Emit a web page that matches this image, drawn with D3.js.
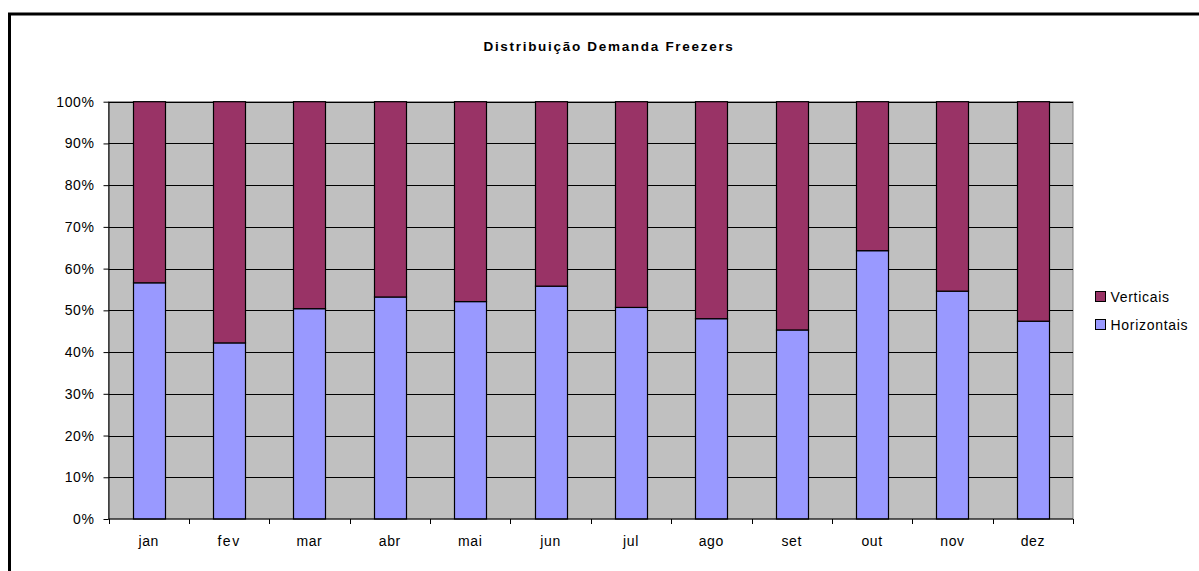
<!DOCTYPE html>
<html>
<head>
<meta charset="utf-8">
<script src="https://cdn.jsdelivr.net/npm/d3@7"></script>
<style>
  body { margin: 0; background: #fff; }
  svg text { font-family: "Liberation Sans", Arial, sans-serif; fill: #000; }
</style>
</head>
<body>
<div id="chart"></div>
<script>
const months = ["jan", "fev", "mar", "abr", "mai", "jun", "jul", "ago", "set", "out", "nov", "dez"];
const horizontais = [56.6, 42.2, 50.4, 53.2, 52.1, 55.8, 50.7, 48.0, 45.3, 64.3, 54.6, 47.4];
const verticais = horizontais.map((h) => 100 - h);
const yTicks = [0, 10, 20, 30, 40, 50, 60, 70, 80, 90, 100];

const W = 1199, H = 571;
const plot = { left: 108.5, right: 1073, top: 101.7, bottom: 519 };

const svg = d3.select("#chart").append("svg")
  .attr("width", W).attr("height", H);

// outer frame (only top/left visible in the window)
svg.append("rect")
  .attr("x", 9.5).attr("y", 14)
  .attr("width", W + 20).attr("height", H + 20)
  .attr("fill", "none").attr("stroke", "#000").attr("stroke-width", 3);

svg.append("text")
  .attr("x", 609).attr("y", 51)
  .attr("text-anchor", "middle")
  .attr("font-size", "13.5px").attr("font-weight", "bold")
  .attr("letter-spacing", "1.7px")
  .text("Distribuição Demanda Freezers");

const x = d3.scaleBand().domain(months).range([plot.left, plot.right]);
const y = d3.scaleLinear().domain([0, 100]).range([plot.bottom, plot.top]);

// plot background
svg.append("rect")
  .attr("x", plot.left).attr("y", plot.top)
  .attr("width", plot.right - plot.left).attr("height", plot.bottom - plot.top)
  .attr("fill", "#c0c0c0").attr("stroke", "#808080").attr("stroke-width", 1);

// gridlines
svg.append("g").selectAll("line")
  .data(yTicks.filter((d) => d > 0))
  .join("line")
  .attr("x1", plot.left).attr("x2", plot.right)
  .attr("y1", (d) => Math.round(y(d)) + 0.5).attr("y2", (d) => Math.round(y(d)) + 0.5)
  .attr("stroke", "#000").attr("stroke-width", 1);

const stack = d3.stack().keys(["h", "v"])(months.map((m, i) => ({ m, h: horizontais[i], v: verticais[i] })));
const colors = { h: "#9999ff", v: "#993366" };
const barW = 32;

svg.append("g").selectAll("g")
  .data(stack)
  .join("g")
  .attr("fill", (s) => colors[s.key])
  .selectAll("rect")
  .data((s) => s)
  .join("rect")
  .attr("x", (d) => Math.round(x(d.data.m) + x.bandwidth() / 2 - barW / 2) + 0.5)
  .attr("y", (d) => y(d[1]))
  .attr("width", barW)
  .attr("height", (d) => y(d[0]) - y(d[1]))
  .attr("stroke", "#000").attr("stroke-width", 1.2);

// y axis
svg.append("g")
  .attr("transform", `translate(${plot.left},0)`)
  .call(d3.axisLeft(y).tickValues(yTicks).tickFormat((d) => d + "%").tickSize(5).tickSizeOuter(0))
  .call((g) => g.selectAll("line, path").attr("stroke", "#000"))
  .call((g) => g.selectAll("text")
    .attr("font-size", "14px").attr("letter-spacing", "0.6px")
    .attr("x", -14).attr("font-family", "Liberation Sans, Arial, sans-serif"));

// x axis
const xBoundaries = d3.range(0, 13).map((i) => plot.left + i * x.bandwidth());
svg.append("line")
  .attr("x1", plot.left).attr("x2", plot.right)
  .attr("y1", plot.bottom).attr("y2", plot.bottom)
  .attr("stroke", "#000");
svg.append("g").selectAll("line")
  .data(xBoundaries)
  .join("line")
  .attr("x1", (d) => Math.round(d) + 0.5).attr("x2", (d) => Math.round(d) + 0.5)
  .attr("y1", plot.bottom).attr("y2", plot.bottom + 5)
  .attr("stroke", "#000");
svg.append("g").selectAll("text")
  .data(months)
  .join("text")
  .attr("x", (d) => x(d) + x.bandwidth() / 2)
  .attr("y", 546)
  .attr("text-anchor", "middle")
  .attr("font-size", "14px")
  .attr("letter-spacing", (d) => d === "fev" ? "1.5px" : "0.6px")
  .text((d) => d);

// legend
const legend = [{ label: "Verticais", color: colors.v }, { label: "Horizontais", color: colors.h }];
const lg = svg.append("g").selectAll("g")
  .data(legend)
  .join("g")
  .attr("transform", (d, i) => `translate(1095.5,${291.5 + i * 28})`);
lg.append("rect")
  .attr("width", 10).attr("height", 10)
  .attr("fill", (d) => d.color).attr("stroke", "#000");
lg.append("text")
  .attr("x", 15).attr("y", 10)
  .attr("font-size", "14px").attr("letter-spacing", "0.7px")
  .text((d) => d.label);
</script>
</body>
</html>
